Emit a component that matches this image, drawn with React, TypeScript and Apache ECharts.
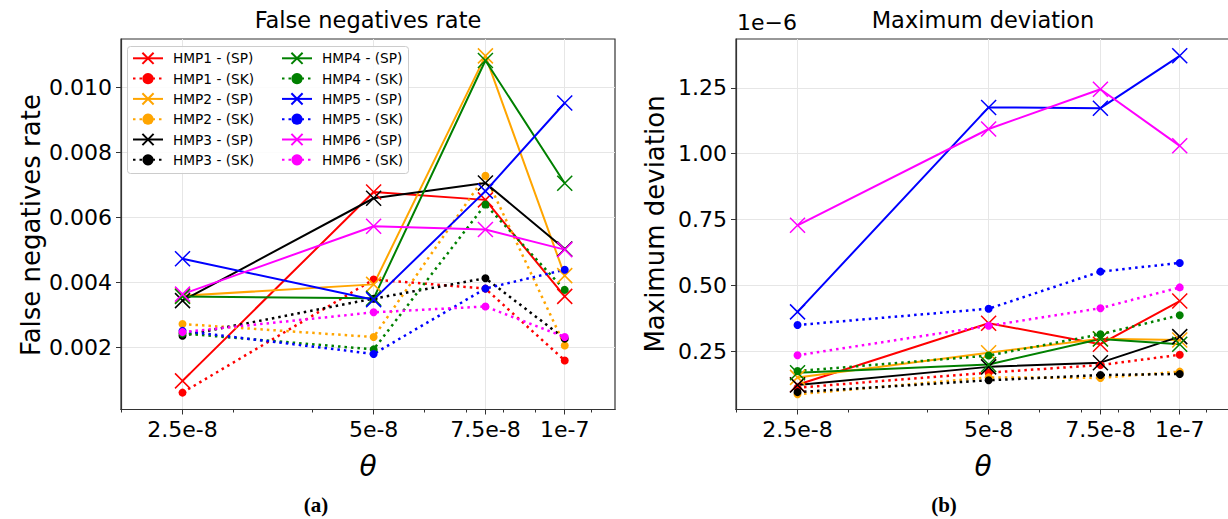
import React, { useEffect, useRef } from 'react';
import * as echarts from 'echarts';

// ---------- data ----------
const thetas = [2.5e-8, 5e-8, 7.5e-8, 1e-7];
const thetaLabels = ['2.5e-8', '5e-8', '7.5e-8', '1e-7'];
const minorThetas = [2e-8, 3e-8, 4e-8, 6e-8, 7e-8, 8e-8, 9e-8, 1.1e-7];
const thetaMin = 2e-8;
const thetaMax = 1.2e-7;

const fnrTicks = [0.002, 0.004, 0.006, 0.008, 0.01];
const devTicks = [0.25, 0.5, 0.75, 1.0, 1.25];

const hmpNames = ['HMP1', 'HMP2', 'HMP3', 'HMP4', 'HMP5', 'HMP6'];
const hmpColors = ['#ff0000', '#ffa500', '#000000', '#008000', '#0000ff', '#ff00ff'];

// False negatives rate
const fnrHmp1Sp = [0.00096, 0.00677, 0.00653, 0.00356];
const fnrHmp1Sk = [0.0006, 0.00408, 0.0038, 0.00159];
const fnrHmp2Sp = [0.00358, 0.00393, 0.01096, 0.0042];
const fnrHmp2Sk = [0.00271, 0.00231, 0.00727, 0.00205];
const fnrHmp3Sp = [0.00343, 0.00658, 0.00705, 0.00502];
const fnrHmp3Sk = [0.00235, 0.00349, 0.00412, 0.00226];
const fnrHmp4Sp = [0.00356, 0.0035, 0.01082, 0.00704];
const fnrHmp4Sk = [0.00242, 0.00193, 0.00639, 0.00376];
const fnrHmp5Sp = [0.00472, 0.00346, 0.0068, 0.00951];
const fnrHmp5Sk = [0.0025, 0.00179, 0.0038, 0.00438];
const fnrHmp6Sp = [0.00363, 0.00572, 0.00562, 0.005];
const fnrHmp6Sk = [0.00246, 0.00307, 0.00325, 0.00231];

// Maximum deviation (x 1e-6)
const devHmp1Sp = [0.122, 0.356, 0.276, 0.44];
const devHmp1Sk = [0.111, 0.168, 0.197, 0.236];
const devHmp2Sp = [0.15, 0.244, 0.297, 0.292];
const devHmp2Sk = [0.086, 0.15, 0.148, 0.172];
const devHmp3Sp = [0.121, 0.19, 0.206, 0.305];
const devHmp3Sk = [0.094, 0.139, 0.159, 0.163];
const devHmp4Sp = [0.168, 0.199, 0.296, 0.276];
const devHmp4Sk = [0.174, 0.233, 0.314, 0.386];
const devHmp5Sp = [0.399, 1.176, 1.173, 1.372];
const devHmp5Sk = [0.349, 0.411, 0.552, 0.585];
const devHmp6Sp = [0.728, 1.094, 1.245, 1.03];
const devHmp6Sk = [0.234, 0.346, 0.413, 0.492];

const fnrSp = [fnrHmp1Sp, fnrHmp2Sp, fnrHmp3Sp, fnrHmp4Sp, fnrHmp5Sp, fnrHmp6Sp];
const fnrSk = [fnrHmp1Sk, fnrHmp2Sk, fnrHmp3Sk, fnrHmp4Sk, fnrHmp5Sk, fnrHmp6Sk];
const devSp = [devHmp1Sp, devHmp2Sp, devHmp3Sp, devHmp4Sp, devHmp5Sp, devHmp6Sp];
const devSk = [devHmp1Sk, devHmp2Sk, devHmp3Sk, devHmp4Sk, devHmp5Sk, devHmp6Sk];

// ---------- helpers ----------
const FONT = '"DejaVu Sans", sans-serif';
const X_PATH = 'path://M0,0L10,10M10,0L0,10';
const lg = (v: number) => Math.log10(v);
const majorLogs = thetas.map(lg);
const minorLogs = minorThetas.map(lg);

function thetaFormatter(v: number) {
  let best = 0;
  majorLogs.forEach((m, i) => {
    if (Math.abs(m - v) < Math.abs(majorLogs[best] - v)) best = i;
  });
  return thetaLabels[best];
}

function makeSeries(values: number[], name: string, color: string, isSp: boolean, xIdx: number, yIdx: number) {
  return {
    type: 'line',
    name,
    xAxisIndex: xIdx,
    yAxisIndex: yIdx,
    data: thetas.map((t, i) => [lg(t), values[i]]),
    symbol: isSp ? X_PATH : 'circle',
    symbolSize: isSp ? 15 : 8,
    showAllSymbol: true,
    lineStyle: { color, width: isSp ? 2 : 2.5, type: isSp ? 'solid' : [2.5, 4] },
    itemStyle: { color, borderColor: color, borderWidth: isSp ? 1.5 : 0 },
    emphasis: { disabled: true },
    silent: true,
    z: 2,
  };
}

function majorX(gridIndex: number) {
  return {
    type: 'value',
    gridIndex,
    position: 'bottom',
    min: lg(thetaMin),
    max: lg(thetaMax),
    axisLine: { show: true, onZero: false, lineStyle: { color: '#333', width: 1.2 } },
    axisTick: { show: true, customValues: majorLogs, length: 5, lineStyle: { color: '#333', width: 1 } },
    axisLabel: {
      show: true,
      customValues: majorLogs,
      formatter: thetaFormatter,
      fontSize: 22,
      fontFamily: FONT,
      color: '#000',
      margin: 9,
    },
    splitLine: { show: true, lineStyle: { color: '#e6e6e6', width: 1 } },
  };
}

function minorX(gridIndex: number) {
  return {
    type: 'value',
    gridIndex,
    position: 'bottom',
    min: lg(thetaMin),
    max: lg(thetaMax),
    axisLine: { show: false, onZero: false },
    axisTick: { show: true, customValues: minorLogs, length: 3, lineStyle: { color: '#333', width: 1 } },
    axisLabel: { show: false, customValues: minorLogs },
    splitLine: { show: false },
  };
}

function yAxisOf(gridIndex: number, min: number, max: number, ticks: number[], digits: number) {
  return {
    type: 'value',
    gridIndex,
    min,
    max,
    axisLine: { show: true, onZero: false, lineStyle: { color: '#333', width: 1.2 } },
    axisTick: { show: true, customValues: ticks, length: 5, lineStyle: { color: '#333', width: 1 } },
    axisLabel: {
      customValues: ticks,
      formatter: (v: number) => v.toFixed(digits),
      fontSize: 22,
      fontFamily: FONT,
      color: '#000',
      margin: 9,
    },
    splitLine: { show: true, lineStyle: { color: '#e6e6e6', width: 1 } },
  };
}

export default function App() {
  const ref = useRef<HTMLDivElement>(null);

  useEffect(() => {
    if (!ref.current) return;
    const chart = echarts.init(ref.current, null, { renderer: 'svg' });

    const series: any[] = [];
    const legendCol1: string[] = [];
    const legendCol2: string[] = [];
    hmpNames.forEach((h, i) => {
      const spName = `${h} - (SP)`;
      const skName = `${h} - (SK)`;
      series.push(makeSeries(fnrSp[i], spName, hmpColors[i], true, 0, 0));
      series.push(makeSeries(fnrSk[i], skName, hmpColors[i], false, 0, 0));
      (i < 3 ? legendCol1 : legendCol2).push(spName, skName);
    });
    hmpNames.forEach((h, i) => {
      series.push(makeSeries(devSp[i], `${h} - (SP)`, hmpColors[i], true, 2, 1));
      series.push(makeSeries(devSk[i], `${h} - (SK)`, hmpColors[i], false, 2, 1));
    });

    const legendCommon = {
      orient: 'vertical',
      top: 51.3,
      padding: 0,
      itemWidth: 30,
      itemHeight: 14,
      itemGap: 6.3,
      selectedMode: false,
      z: 6,
      textStyle: { fontSize: 13.7, fontFamily: FONT, color: '#000', padding: [0, 0, 0, 5] },
    };

    const option: any = {
      animation: false,
      backgroundColor: '#ffffff',
      grid: [
        { left: 121, top: 39, width: 494, height: 370.5, show: true, borderColor: '#333', borderWidth: 1.2, backgroundColor: 'transparent', containLabel: false, outerBoundsMode: 'none' },
        { left: 736, top: 39, width: 494, height: 370.5, show: true, borderColor: '#333', borderWidth: 1.2, backgroundColor: 'transparent', containLabel: false, outerBoundsMode: 'none' },
      ],
      xAxis: [majorX(0), minorX(0), majorX(1), minorX(1)],
      yAxis: [
        yAxisOf(0, 0.00008, 0.01148, fnrTicks, 3),
        yAxisOf(1, 0.028, 1.436, devTicks, 2),
      ],
      legend: [
        { ...legendCommon, left: 132, data: legendCol1 },
        { ...legendCommon, left: 281, data: legendCol2 },
      ],
      series,
      graphic: [
        {
          type: 'rect',
          z: 4,
          shape: { x: 127.5, y: 46.5, width: 281, height: 127, r: 3 },
          style: { fill: 'rgba(255,255,255,0.85)', stroke: '#cccccc', lineWidth: 1 },
        },
        {
          type: 'text', x: 368, y: 20, z: 10,
          style: { text: 'False negatives rate', font: `22.5px ${FONT}`, fill: '#000', textAlign: 'center', textVerticalAlign: 'middle' },
        },
        {
          type: 'text', x: 983, y: 20, z: 10,
          style: { text: 'Maximum deviation', font: `22.5px ${FONT}`, fill: '#000', textAlign: 'center', textVerticalAlign: 'middle' },
        },
        {
          type: 'text', x: 737, y: 22, z: 10,
          style: { text: '1e\u22126', font: `22px ${FONT}`, fill: '#000', textAlign: 'left', textVerticalAlign: 'middle' },
        },
        {
          type: 'text', x: 31, y: 225, rotation: Math.PI / 2, z: 10,
          style: { text: 'False negatives rate', font: `26px ${FONT}`, fill: '#000', textAlign: 'center', textVerticalAlign: 'middle' },
        },
        {
          type: 'text', x: 655, y: 224, rotation: Math.PI / 2, z: 10,
          style: { text: 'Maximum deviation', font: `26px ${FONT}`, fill: '#000', textAlign: 'center', textVerticalAlign: 'middle' },
        },
        {
          type: 'text', x: 368, y: 466, z: 10,
          style: { text: '\u03b8', font: `italic 28px ${FONT}`, fill: '#000', textAlign: 'center', textVerticalAlign: 'middle' },
        },
        {
          type: 'text', x: 983, y: 466, z: 10,
          style: { text: '\u03b8', font: `italic 28px ${FONT}`, fill: '#000', textAlign: 'center', textVerticalAlign: 'middle' },
        },
        {
          type: 'text', x: 316, y: 505, z: 10,
          style: { text: '(a)', font: `bold 21px "Liberation Serif", serif`, fill: '#000', textAlign: 'center', textVerticalAlign: 'middle' },
        },
        {
          type: 'text', x: 944, y: 505, z: 10,
          style: { text: '(b)', font: `bold 21px "Liberation Serif", serif`, fill: '#000', textAlign: 'center', textVerticalAlign: 'middle' },
        },
      ],
    };

    chart.setOption(option);
    return () => chart.dispose();
  }, []);

  return (
    <div
      ref={ref}
      style={{ position: 'fixed', left: 0, top: 0, width: 1228, height: 519, background: '#fff' }}
    />
  );
}
